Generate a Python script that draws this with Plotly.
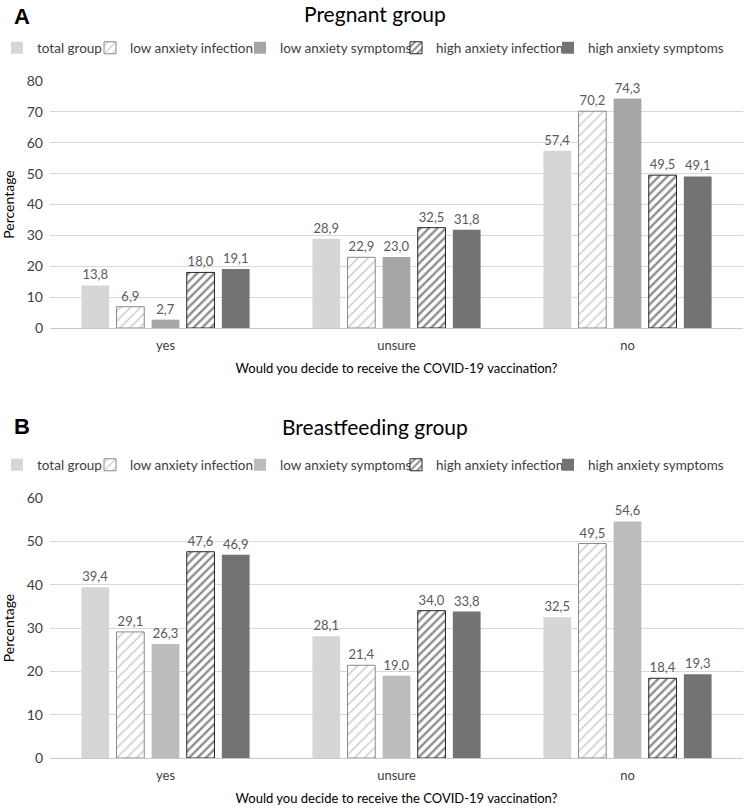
import plotly.graph_objects as go

categories = ["yes", "unsure", "no"]
series_names = ["total group", "low anxiety infection", "low anxiety symptoms",
                "high anxiety infection", "high anxiety symptoms"]

pregnant_total = [13.8, 28.9, 57.4]
pregnant_low_inf = [6.9, 22.9, 70.2]
pregnant_low_sym = [2.7, 23.0, 74.3]
pregnant_high_inf = [18.0, 32.5, 49.5]
pregnant_high_sym = [19.1, 31.8, 49.1]

breast_total = [39.4, 28.1, 32.5]
breast_low_inf = [29.1, 21.4, 49.5]
breast_low_sym = [26.3, 19.0, 54.6]
breast_high_inf = [47.6, 34.0, 18.4]
breast_high_sym = [46.9, 33.8, 19.3]

pregnant = [pregnant_total, pregnant_low_inf, pregnant_low_sym, pregnant_high_inf, pregnant_high_sym]
breast = [breast_total, breast_low_inf, breast_low_sym, breast_high_inf, breast_high_sym]

FONT = "Lato"
W, H = 749, 811

def px(x):
    return x / W

def py(y):
    return 1 - y / H

def style(i, panel):
    if i == 0:
        return dict(color="#d6d6d6", line=dict(width=0))
    if i == 1:
        return dict(color="white", line=dict(color="#8a8a8a", width=1),
                    pattern=dict(shape="/", fgcolor="#8a8a8a", bgcolor="white", size=7, solidity=0.18))
    if i == 2:
        return dict(color="#a6a6a6" if panel == "A" else "#bcbcbc", line=dict(width=0))
    if i == 3:
        return dict(color="white", line=dict(color="#262626", width=1),
                    pattern=dict(shape="/", fgcolor="#1a1a1a", bgcolor="white", size=6, solidity=0.4))
    return dict(color="#737373", line=dict(width=0))

def fmt(v):
    return f"{v:.1f}".replace(".", ",")

legend_text_x = [37, 130, 280, 436, 588]
legend_rows_y = {"A": 48, "B": 465}

fig = go.Figure()
legends = {}
k = 0
for panel, data, xa, ya in [("A", pregnant, "x", "y"), ("B", breast, "x2", "y2")]:
    for i, vals in enumerate(data):
        k += 1
        lg = "legend" if k == 1 else f"legend{k}"
        fig.add_trace(go.Bar(
            x=categories, y=vals, name=series_names[i], xaxis=xa, yaxis=ya, legend=lg,
            marker=style(i, panel), text=[fmt(v) for v in vals], textposition="outside",
            textfont=dict(family=FONT, size=13, color="#595959"), cliponaxis=False,
            hoverinfo="skip"))
        legends[lg] = dict(orientation="h", xanchor="left", x=px(legend_text_x[i] - 40),
                           yanchor="middle", y=py(legend_rows_y[panel]),
                           font=dict(family=FONT, size=13.5, color="#404040"), itemwidth=30,
                           bgcolor="rgba(0,0,0,0)", itemclick=False, itemdoubleclick=False)

xdom = [px(50), px(743)]
common_y = dict(showgrid=True, gridcolor="#d9d9d9", gridwidth=1, zeroline=False, automargin=False,
                showline=False, ticks="", tickfont=dict(family=FONT, size=14, color="#404040"),
                ticklabelstandoff=6,
                title=dict(text="Percentage", font=dict(family=FONT, size=14, color="#000000"), standoff=8))
common_x = dict(showgrid=False, showline=True, linecolor="#c8c8c8", linewidth=1, ticks="", automargin=False,
                tickfont=dict(family=FONT, size=13, color="#404040"), ticklabelstandoff=5,
                title=dict(text="Would you decide to receive the COVID-19 vaccination?",
                           font=dict(family=FONT, size=13, color="#000000"), standoff=12))

fig.update_layout(
    width=W, height=H, paper_bgcolor="white", plot_bgcolor="white",
    margin=dict(l=0, r=0, t=0, b=0, autoexpand=False), showlegend=True,
    barmode="group", bargap=0.24, bargroupgap=0.21,
    xaxis=dict(domain=xdom, anchor="y", **common_x),
    yaxis=dict(domain=[py(328), py(81)], range=[0, 80], dtick=10, anchor="x", **common_y),
    xaxis2=dict(domain=xdom, anchor="y2", **common_x),
    yaxis2=dict(domain=[py(758), py(498)], range=[0, 60], dtick=10, anchor="x2", **common_y),
    annotations=[
        dict(text="Pregnant group", x=px(375), y=py(13), xref="paper", yref="paper", showarrow=False,
             yanchor="middle", font=dict(family=FONT, size=21, color="#000000")),
        dict(text="<b>A</b>", x=px(12), y=py(16), xref="paper", yref="paper", showarrow=False,
             xanchor="left", yanchor="middle", font=dict(family="Liberation Sans", size=22, color="#000000")),
        dict(text="Breastfeeding group", x=px(375), y=py(426), xref="paper", yref="paper", showarrow=False,
             yanchor="middle", font=dict(family=FONT, size=21, color="#000000")),
        dict(text="<b>B</b>", x=px(12), y=py(426), xref="paper", yref="paper", showarrow=False,
             xanchor="left", yanchor="middle", font=dict(family="Liberation Sans", size=22, color="#000000")),
    ],
)
fig.update_layout(**legends)

fig.write_html("out.html", config={"displayModeBar": False},
               post_script="document.body.style.margin='0px';")
